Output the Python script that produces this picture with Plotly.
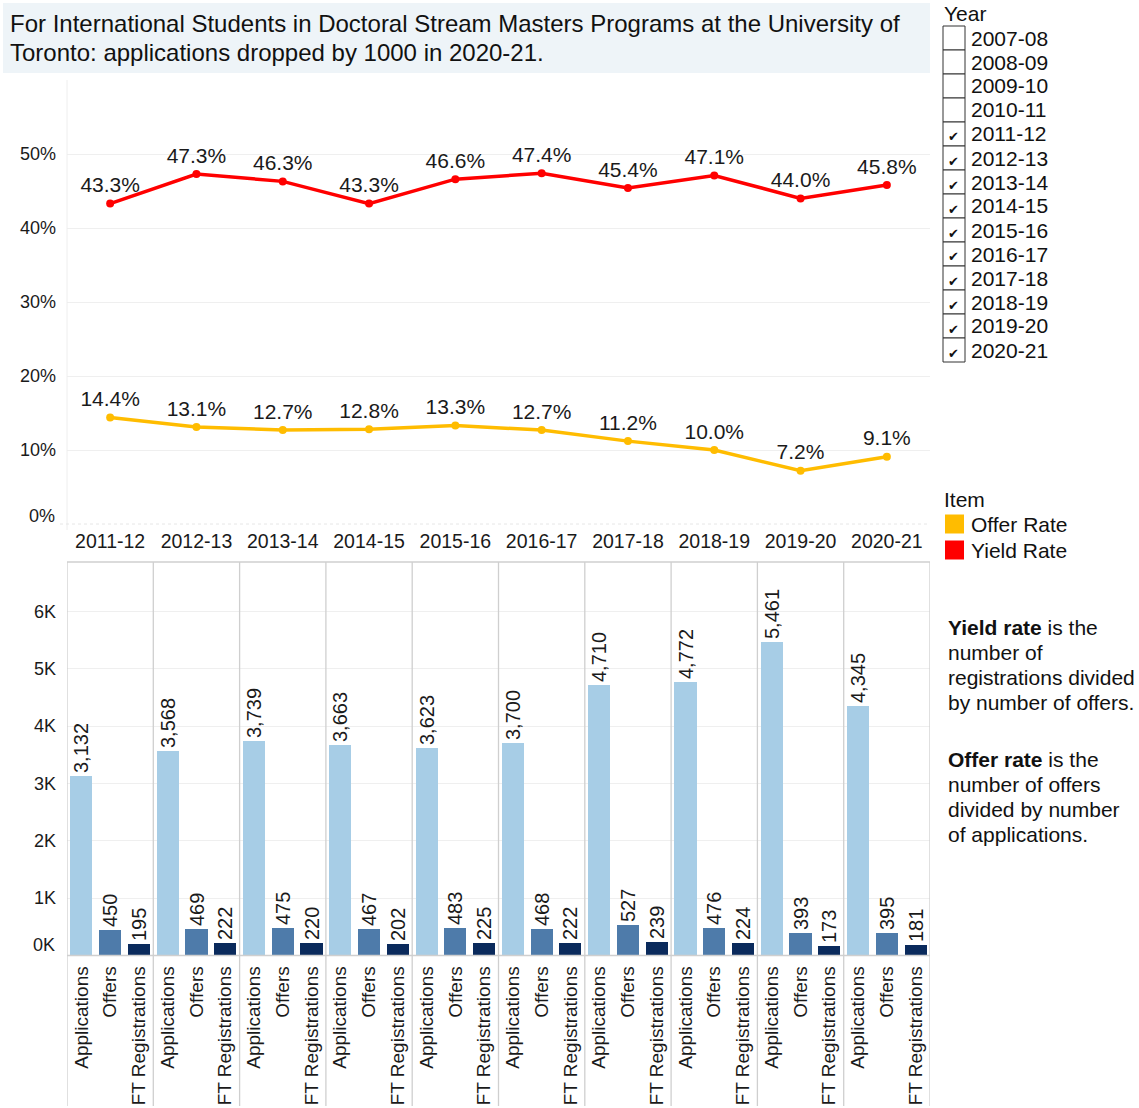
import plotly.graph_objects as go

W, H = 1139, 1108
FONT = "Arial, Liberation Sans, sans-serif"

years = ["2011-12", "2012-13", "2013-14", "2014-15", "2015-16",
         "2016-17", "2017-18", "2018-19", "2019-20", "2020-21"]
yield_rate = [0.433, 0.473, 0.463, 0.433, 0.466, 0.474, 0.454, 0.471, 0.440, 0.458]
offer_rate = [0.144, 0.131, 0.127, 0.128, 0.133, 0.127, 0.112, 0.100, 0.072, 0.091]
pct_ticks = [0, 0.1, 0.2, 0.3, 0.4, 0.5]
pct_labels = ["0%", "10%", "20%", "30%", "40%", "50%"]

items = ["Applications", "Offers", "FT Registrations"]
applications = [3132, 3568, 3739, 3663, 3623, 3700, 4710, 4772, 5461, 4345]
offers = [450, 469, 475, 467, 483, 468, 527, 476, 393, 395]
registrations = [195, 222, 220, 202, 225, 222, 239, 224, 173, 181]
item_colors = ["#a7cde6", "#4e7baa", "#0a2a5c"]
count_ticks = [0, 1000, 2000, 3000, 4000, 5000, 6000]
count_labels = ["0K", "1K", "2K", "3K", "4K", "5K", "6K"]

year_options = ["2007-08", "2008-09", "2009-10", "2010-11", "2011-12", "2012-13", "2013-14",
                "2014-15", "2015-16", "2016-17", "2017-18", "2018-19", "2019-20", "2020-21"]
legend_items = ["Offer Rate", "Yield Rate"]
legend_colors = ["#ffbc00", "#ff0000"]

title_lines = ["For International Students in Doctoral Stream Masters Programs at the University of",
               "Toronto: applications dropped by 1000 in 2020-21."]
note1_lines = ["<b>Yield rate</b> is the", "number of", "registrations divided", "by number of offers."]
note2_lines = ["<b>Offer rate</b> is the", "number of offers", "divided by number", "of applications."]


def px(p):
    return p / W


def py(p):
    return 1 - p / H


fig = go.Figure()

# top line chart
for vals, col, nm in [(yield_rate, "#ff0000", "Yield Rate"), (offer_rate, "#ffbc00", "Offer Rate")]:
    fig.add_trace(go.Scatter(
        x=years, y=vals, mode="lines+markers+text",
        line=dict(color=col, width=3.5), marker=dict(size=8, color=col),
        text=[f"{v*100:.1f}%" for v in vals], textposition="top center",
        textfont=dict(size=21, color="#1a1a1a", family=FONT), cliponaxis=False,
        xaxis="x", yaxis="y", showlegend=False, name=nm))

# bottom bar chart
series = [applications, offers, registrations]
for j, (name, vals) in enumerate(zip(items, series)):
    xs = [i * 3 + j for i in range(len(years))]
    fig.add_trace(go.Bar(
        x=xs, y=vals, width=0.77, marker=dict(color=item_colors[j], line=dict(width=0)),
        text=[f"{v:,}" for v in vals], textposition="outside", textangle=-90,
        constraintext="none",
        textfont=dict(size=20, color="#1a1a1a", family=FONT), cliponaxis=False,
        xaxis="x2", yaxis="y2", showlegend=False, name=name))

bar_tickvals = [i * 3 + j for i in range(len(years)) for j in range(3)]
bar_ticktext = [items[j] for i in range(len(years)) for j in range(3)]

dom_x = [px(67), px(930)]
shapes = []
annotations = []


def label(text, x, y, size, xanchor="left", family=FONT, color="#111"):
    annotations.append(dict(text=text, xref="paper", yref="paper", x=px(x), y=py(y),
                            xanchor=xanchor, yanchor="middle", showarrow=False, align="left",
                            font=dict(size=size, color=color, family=family)))


# title box
shapes.append(dict(type="rect", xref="paper", yref="paper", x0=px(3), x1=px(930),
                   y0=py(73), y1=py(3), fillcolor="#eef4f8", line=dict(width=0), layer="below"))
for k, t in enumerate(title_lines):
    label(t, 8, 24 + k * 28, 24)

# bottom-of-axis zero labels sit slightly above their gridline (as in the original)
label(pct_labels[0], 57, 516, 18, xanchor="right", color="#1a1a1a")
label(count_labels[0], 57, 945, 18, xanchor="right", color="#1a1a1a")

# panel dividers bottom chart
for i in range(len(years) + 1):
    shapes.append(dict(type="line", xref="x2", yref="paper", x0=i * 3 - 0.5, x1=i * 3 - 0.5,
                       y0=py(1106), y1=py(562), line=dict(color="#cfcfcf", width=1.3)))
shapes.append(dict(type="line", xref="paper", yref="paper", x0=px(67), x1=px(930),
                   y0=py(562), y1=py(562), line=dict(color="#cfcfcf", width=1.3)))
shapes.append(dict(type="line", xref="paper", yref="paper", x0=px(67), x1=px(930),
                   y0=py(955.5), y1=py(955.5), line=dict(color="#cfcfcf", width=1.3)))
# top chart faint left line and bottom dotted line
shapes.append(dict(type="line", xref="paper", yref="paper", x0=px(67), x1=px(67),
                   y0=py(530), y1=py(80), line=dict(color="#eeeeee", width=1)))
shapes.append(dict(type="line", xref="paper", yref="paper", x0=px(60), x1=px(930),
                   y0=py(524), y1=py(524), line=dict(color="#e6e6e6", width=1, dash="dot")))

# Year filter
label("Year", 942, 14, 21)
for k, yr in enumerate(year_options):
    cy = 38 + k * 24
    shapes.append(dict(type="rect", xref="paper", yref="paper", x0=px(943), x1=px(965),
                       y0=py(cy + 12), y1=py(cy - 12), line=dict(color="#333", width=1),
                       fillcolor="white"))
    label(yr, 969, cy, 21)
    if yr in years:
        label("<b>✔</b>", 953, cy + 3, 13, xanchor="center", family="DejaVu Sans")

# Item legend
label("Item", 942, 500, 21)
for k, (nm, col) in enumerate(zip(legend_items, legend_colors)):
    cy = 524 + k * 26
    shapes.append(dict(type="rect", xref="paper", yref="paper", x0=px(945), x1=px(964),
                       y0=py(cy + 9.5), y1=py(cy - 9.5), line=dict(width=0), fillcolor=col))
    label(nm, 969, cy, 21)

# notes
for k, t in enumerate(note1_lines):
    label(t, 946, 627 + k * 25, 21)
for k, t in enumerate(note2_lines):
    label(t, 946, 759 + k * 25, 21)

fig.update_layout(
    width=W, height=H, margin=dict(l=0, r=0, t=0, b=0),
    paper_bgcolor="white", plot_bgcolor="white", font=dict(family=FONT),
    bargap=0,
    xaxis=dict(domain=dom_x, anchor="y", type="category", range=[-0.5, 9.5],
               showgrid=False, zeroline=False, showline=False, ticks="",
               tickfont=dict(size=19.5, color="#1a1a1a", family=FONT), ticklabelstandoff=3),
    yaxis=dict(domain=[py(524), py(80)], anchor="x", range=[0, 0.6],
               tickvals=pct_ticks, ticktext=[""] + pct_labels[1:],
               showgrid=True, gridcolor="#efefef", gridwidth=1, zeroline=False, showline=False,
               ticks="", tickfont=dict(size=18, color="#1a1a1a", family=FONT), ticklabelstandoff=10),
    xaxis2=dict(domain=dom_x, anchor="y2", range=[-0.5, 29.5],
                tickvals=bar_tickvals, ticktext=bar_ticktext, tickangle=-90,
                showgrid=False, zeroline=False, showline=False, ticks="",
                tickfont=dict(size=19, color="#1a1a1a", family=FONT), ticklabelstandoff=6),
    yaxis2=dict(domain=[py(955.5), py(562)], anchor="x2", range=[0, 6860],
                tickvals=count_ticks, ticktext=[""] + count_labels[1:],
                showgrid=True, gridcolor="#efefef", gridwidth=1, zeroline=False, showline=False,
                ticks="", tickfont=dict(size=18, color="#1a1a1a", family=FONT), ticklabelstandoff=10),
    shapes=shapes, annotations=annotations,
)

# page setup: no body margin, figure pinned to the top-left, height matched to the viewport
post = ("document.documentElement.style.margin='0';document.documentElement.style.overflow='hidden';"
        "document.body.style.margin='0';document.body.style.overflow='hidden';"
        "var d=document.getElementById('{plot_id}');d.style.position='absolute';"
        "d.style.top='0px';d.style.left='0px';"
        "var vh=window.innerHeight;"
        "if(vh>1000&&vh<1300&&vh!==1108){Plotly.relayout(d,{height:vh});}")
fig.write_html("out.html", config={"displayModeBar": False}, post_script=post)
